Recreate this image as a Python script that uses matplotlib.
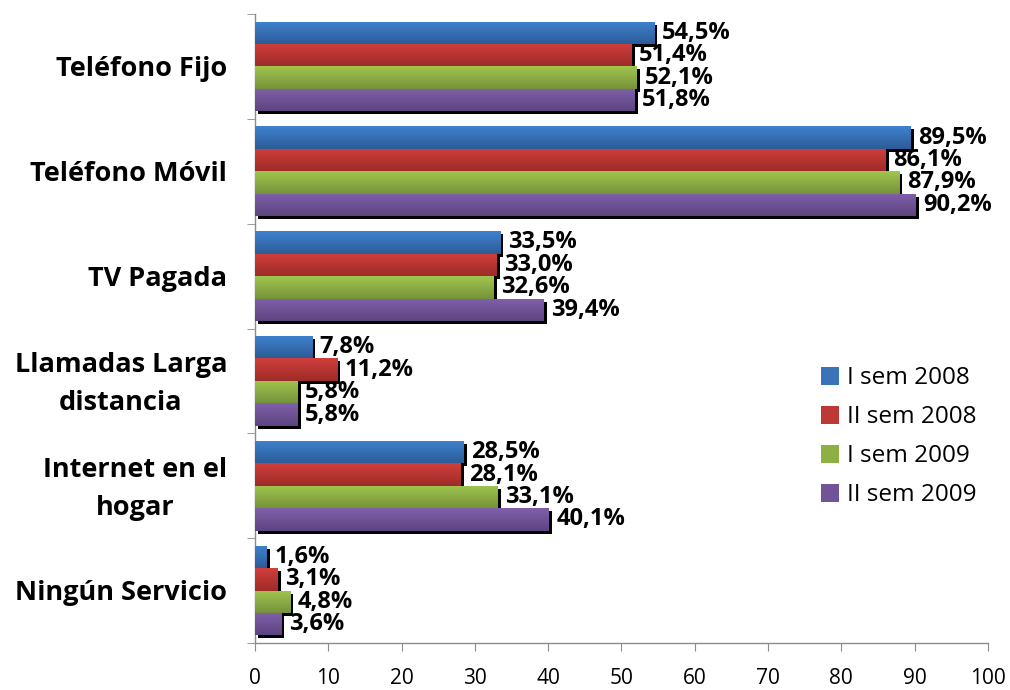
import matplotlib
matplotlib.use("Agg")
import matplotlib.pyplot as plt
import matplotlib.transforms as mtransforms
from matplotlib.colors import LinearSegmentedColormap
from matplotlib.patches import Patch
import numpy as np

categories = ["Teléfono Fijo", "Teléfono Móvil", "TV Pagada",
              "Llamadas Larga\ndistancia", "Internet en el\nhogar", "Ningún Servicio"]
series_names = ["I sem 2008", "II sem 2008", "I sem 2009", "II sem 2009"]
s_2008_1 = [54.5, 89.5, 33.5, 7.8, 28.5, 1.6]
s_2008_2 = [51.4, 86.1, 33.0, 11.2, 28.1, 3.1]
s_2009_1 = [52.1, 87.9, 32.6, 5.8, 33.1, 4.8]
s_2009_2 = [51.8, 90.2, 39.4, 5.8, 40.1, 3.6]
series = [s_2008_1, s_2008_2, s_2009_1, s_2009_2]
xticks = [0, 10, 20, 30, 40, 50, 60, 70, 80, 90, 100]

colors_top = ["#3F82CE", "#D03F3C", "#A0C64E", "#8160AA"]
colors_bot = ["#2C5C98", "#9E2B28", "#75923A", "#5D4480"]
colors_mid = ["#3A73B8", "#BE3836", "#8DAF44", "#71539A"]

plt.rcParams['font.family'] = ['Open Sans', 'DejaVu Sans']

fig = plt.figure(figsize=(10.1, 6.9), dpi=100)
ax = fig.add_axes([0.2525, 0.0681, 0.978 - 0.2525, 0.9797 - 0.0681])

n_cat = len(categories)
n_ser = len(series)
bar_h = 0.214
group_off = -bar_h * n_ser / 2

shadow_tr = mtransforms.offset_copy(ax.transData, fig=fig, x=3, y=-3, units='dots')

ax.set_xlim(0, 100)
ax.set_ylim(n_cat - 0.5, -0.5)

for si, vals in enumerate(series):
    cmap = LinearSegmentedColormap.from_list("g%d" % si, [colors_top[si], colors_bot[si]])
    grad = np.linspace(0, 1, 64).reshape(-1, 1)
    for ci, v in enumerate(vals):
        y0 = ci + group_off + si * bar_h
        ax.barh(y0 + bar_h / 2, v, height=bar_h, left=0, color="black",
                transform=shadow_tr, zorder=1)
        bars = ax.barh(y0 + bar_h / 2, v, height=bar_h, left=0,
                       color=colors_mid[si], zorder=2, linewidth=0)
        im = ax.imshow(grad, cmap=cmap, aspect='auto',
                       extent=(0, v, y0 + bar_h, y0), zorder=3,
                       interpolation='bilinear')
        im.set_clip_path(bars[0])
        ax.annotate(("%.1f%%" % v).replace(".", ","), xy=(v, y0 + bar_h / 2),
                    xytext=(5.5, 0), textcoords='offset points',
                    ha='left', va='center', fontsize=17, fontweight='bold',
                    zorder=5)

ax.set_xlim(0, 100)
ax.set_ylim(n_cat - 0.5, -0.5)

handles = [Patch(facecolor=colors_mid[i], edgecolor='none') for i in range(n_ser)]
fig.legend(handles, series_names, loc='upper left',
           bbox_to_anchor=(821 / 1010, 1 - 366 / 690),
           frameon=False, fontsize=17.5, handlelength=0.76, handleheight=0.76,
           labelspacing=0.62, handletextpad=0.33, borderaxespad=0, borderpad=0)

for s in ['top', 'right']:
    ax.spines[s].set_visible(False)
for s in ['left', 'bottom']:
    ax.spines[s].set_color('#8C8C8C')
    ax.spines[s].set_linewidth(1.0)

ax.set_xticks(xticks)
ax.set_xticklabels([str(t) for t in xticks], fontsize=15)
ax.tick_params(axis='x', colors='#8C8C8C', length=6, labelcolor='black', pad=12)

ax.set_yticks(np.arange(n_cat))
ax.set_yticklabels([])
ax.set_yticks(np.arange(n_cat + 1) - 0.5, minor=True)
ax.tick_params(axis='y', which='major', length=0)
ax.tick_params(axis='y', which='minor', length=6, colors='#8C8C8C')

for ci, c in enumerate(categories):
    ax.annotate(c, xy=(0, ci), xycoords=('axes fraction', 'data'),
                xytext=(-20, -2), textcoords='offset points',
                ha='right', va='center', multialignment='center',
                fontsize=19.5, fontweight='bold', linespacing=1.6)

fig.savefig("out.png", dpi=100)
